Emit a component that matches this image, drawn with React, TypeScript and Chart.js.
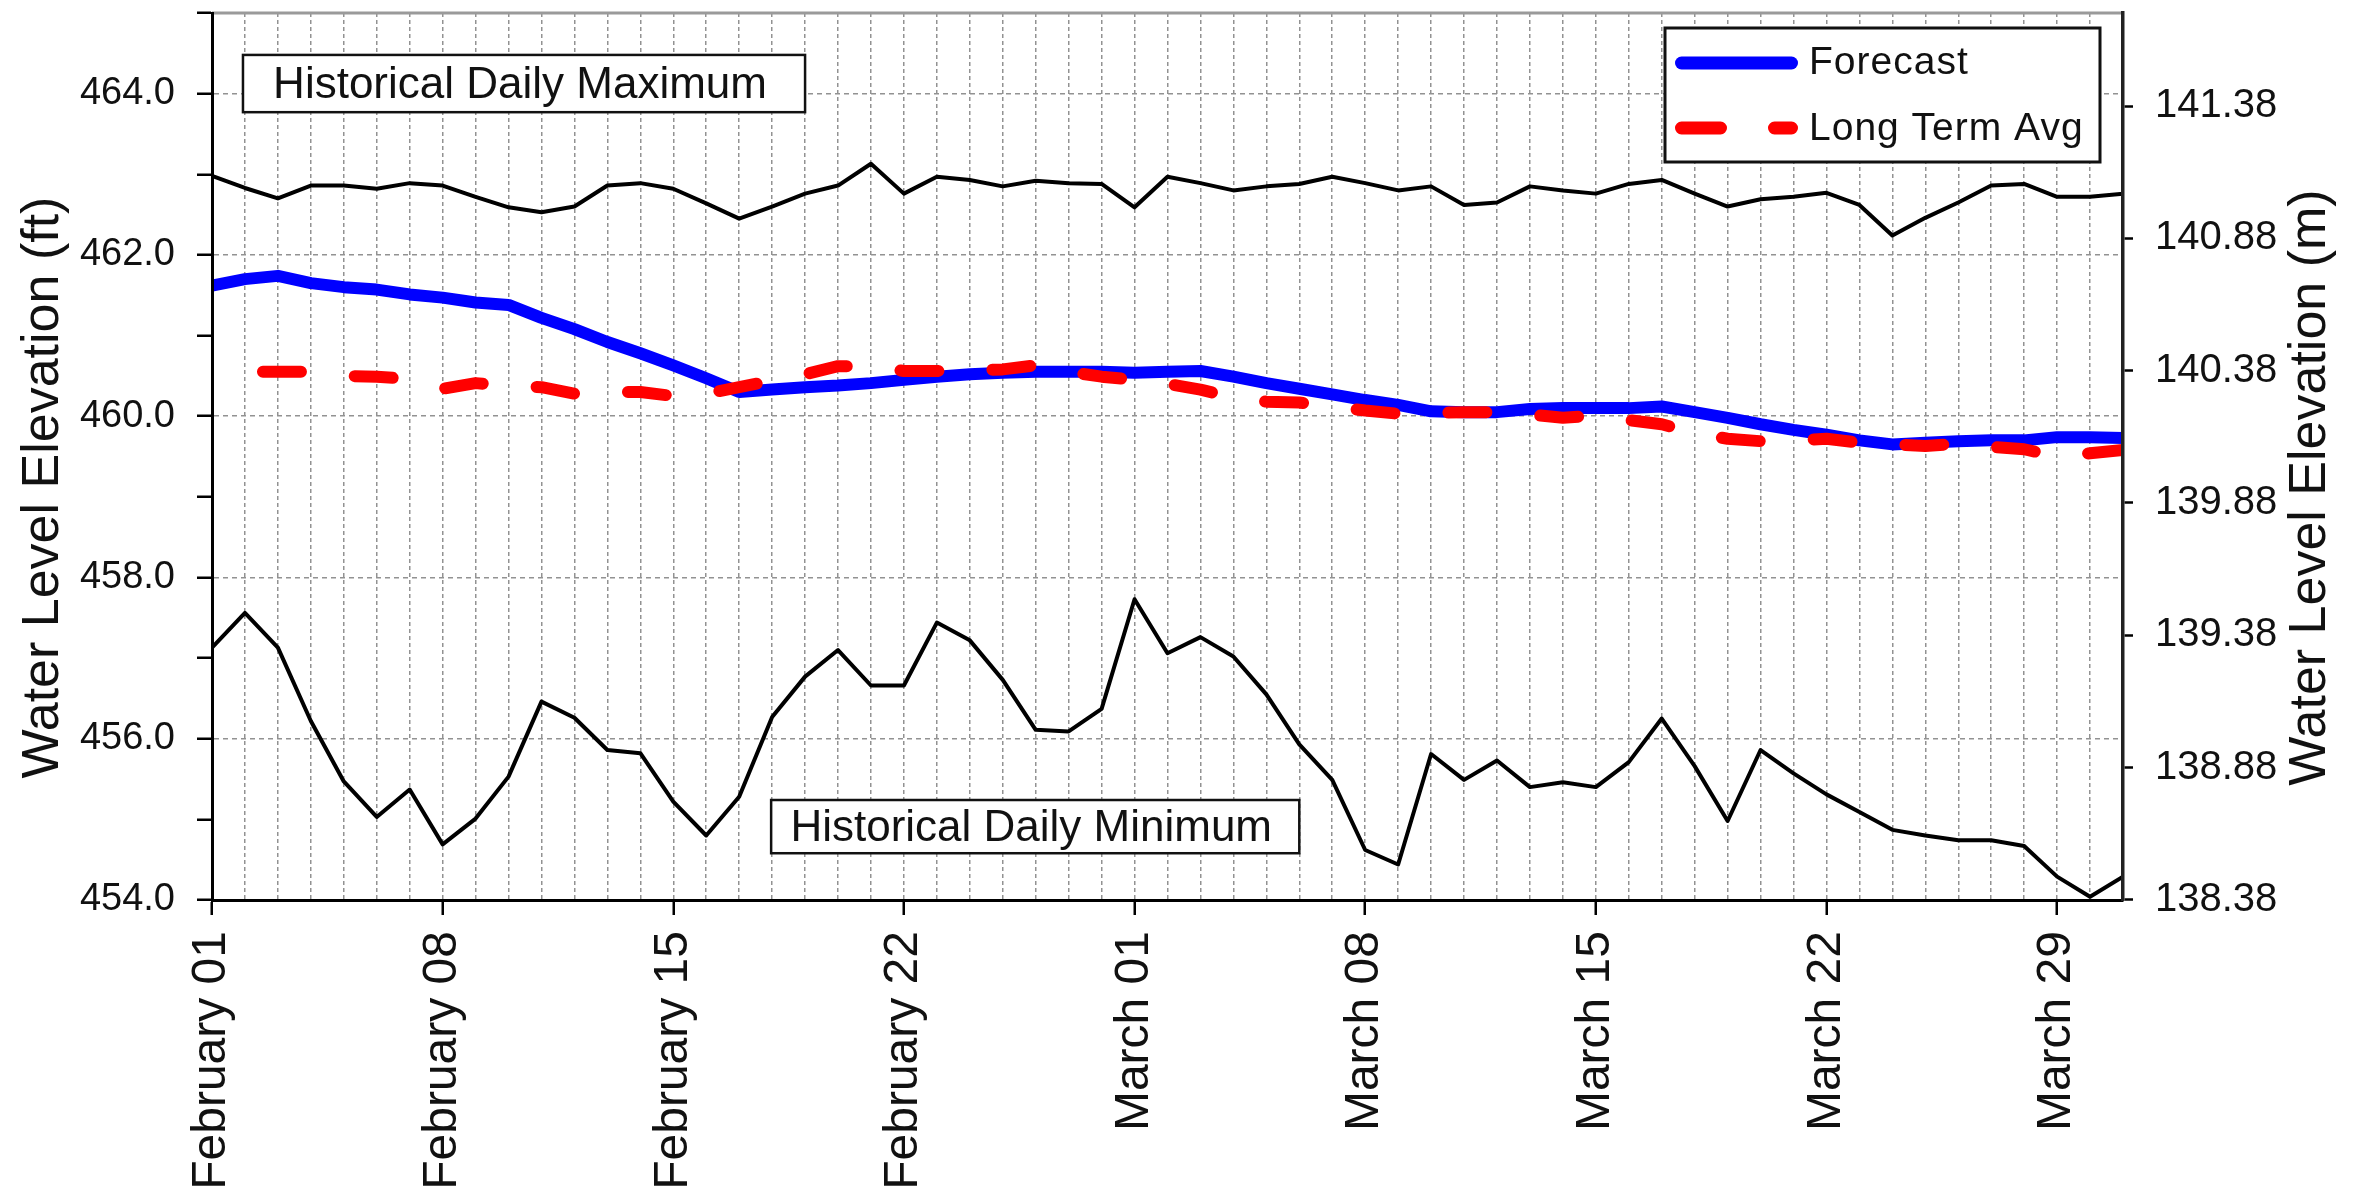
import React, { useEffect, useRef } from 'react';
import { Chart, registerables } from 'chart.js';

Chart.register(...registerables);

const FONT = '"Liberation Sans", Arial, Helvetica, sans-serif';

// ---- categories (one per day, Feb 01 .. Mar 31) ----
const monthNames = ['February', 'March'];
const monthLengths = [28, 31];
const dayLabels: string[] = [];
monthNames.forEach((m, mi) => {
  for (let d = 1; d <= monthLengths[mi]; d++) dayLabels.push(`${m} ${String(d).padStart(2, '0')}`);
});

// ---- tick labels shown on the date axis ----
const shownDateLabels = [
  'February 01', 'February 08', 'February 15', 'February 22',
  'March 01', 'March 08', 'March 15', 'March 22', 'March 29',
];

// ---- series (ft) ----
const histMax = [
  462.98, 462.83, 462.70, 462.86, 462.86, 462.82, 462.89, 462.86, 462.72, 462.59,
  462.53, 462.60, 462.86, 462.89, 462.82, 462.64, 462.45, 462.60, 462.76, 462.86,
  463.13, 462.76, 462.97, 462.93, 462.85, 462.92, 462.89, 462.88, 462.59, 462.97,
  462.89, 462.80, 462.85, 462.88, 462.97, 462.89, 462.80, 462.85, 462.62, 462.65,
  462.85, 462.80, 462.76, 462.88, 462.93, 462.76, 462.60, 462.69, 462.72, 462.77,
  462.62, 462.24, 462.46, 462.65, 462.86, 462.88, 462.72, 462.72, 462.76,
];
const histMin = [
  457.13, 457.56, 457.13, 456.22, 455.47, 455.03, 455.37, 454.69, 455.01, 455.53,
  456.46, 456.26, 455.86, 455.82, 455.22, 454.80, 455.28, 456.27, 456.77, 457.10,
  456.66, 456.66, 457.44, 457.22, 456.73, 456.11, 456.09, 456.37, 457.73, 457.06,
  457.26, 457.02, 456.55, 455.93, 455.49, 454.62, 454.44, 455.81, 455.49, 455.73,
  455.40, 455.46, 455.40, 455.71, 456.25, 455.66, 454.98, 455.86, 455.57, 455.31,
  455.09, 454.87, 454.80, 454.74, 454.74, 454.67, 454.29, 454.04, 454.29,
];
const forecast = [
  461.62, 461.70, 461.74, 461.65, 461.60, 461.57, 461.51, 461.47, 461.41, 461.38,
  461.22, 461.08, 460.92, 460.78, 460.63, 460.47, 460.30, 460.33, 460.36, 460.38,
  460.41, 460.45, 460.49, 460.52, 460.54, 460.55, 460.55, 460.55, 460.54, 460.55,
  460.56, 460.49, 460.41, 460.34, 460.27, 460.20, 460.14, 460.06, 460.05, 460.05,
  460.09, 460.10, 460.10, 460.10, 460.12, 460.05, 459.98, 459.90, 459.83, 459.77,
  459.70, 459.65, 459.67, 459.69, 459.70, 459.70, 459.74, 459.74, 459.73,
];
const longTermAvg = [
  460.57, 460.55, 460.55, 460.55, 460.50, 460.49, 460.46, 460.34, 460.41, 460.38,
  460.36, 460.28, 460.30, 460.30, 460.25, 460.28, 460.36, 460.44, 460.52, 460.62,
  460.62, 460.56, 460.56, 460.57, 460.58, 460.63, 460.55, 460.49, 460.45, 460.40,
  460.33, 460.23, 460.18, 460.17, 460.12, 460.07, 460.03, 460.04, 460.05, 460.05,
  460.02, 459.98, 460.01, 459.95, 459.90, 459.79, 459.72, 459.69, 459.70, 459.72,
  459.67, 459.65, 459.63, 459.66, 459.62, 459.59, 459.50, 459.54, 459.58,
];

// ---- axes ----
const FT_MIN = 454;
const FT_MAX = 465;
const FT_TO_M = 0.3048;
const meterTicks = [138.38, 138.88, 139.38, 139.88, 140.38, 140.88, 141.38];

const leftTitle = 'Water Level Elevation (ft)';
const rightTitle = 'Water Level Elevation (m)';
const maxBoxText = 'Historical Daily Maximum';
const minBoxText = 'Historical Daily Minimum';
const legendItems = ['Forecast', 'Long Term Avg'];

const W = 2363;
const H = 1192;

const overlayPlugin = {
  id: 'overlay',
  beforeDatasetsDraw(chart: any) {
    const { ctx, chartArea, scales } = chart;
    const x = scales.x;
    const y = scales.y;
    ctx.save();
    // top frame line
    ctx.strokeStyle = '#9a9a9a';
    ctx.lineWidth = 3;
    ctx.beginPath();
    ctx.moveTo(chartArea.left, chartArea.top);
    ctx.lineTo(chartArea.right, chartArea.top);
    ctx.stroke();

    const boxes = [
      { text: maxBoxText, d0: 0.94, d1: 18.0, v0: 464.48, v1: 463.77 },
      { text: minBoxText, d0: 16.97, d1: 33.0, v0: 455.24, v1: 454.58 },
    ];
    boxes.forEach((b) => {
      const x1 = x.getPixelForValue(b.d0);
      const x2 = x.getPixelForValue(b.d1);
      const y1 = y.getPixelForValue(b.v0);
      const y2 = y.getPixelForValue(b.v1);
      ctx.fillStyle = '#ffffff';
      ctx.fillRect(x1, y1, x2 - x1, y2 - y1);
      ctx.strokeStyle = '#111';
      ctx.lineWidth = 2.5;
      ctx.strokeRect(x1, y1, x2 - x1, y2 - y1);
      ctx.fillStyle = '#111';
      ctx.font = `44px ${FONT}`;
      ctx.textAlign = 'center';
      ctx.textBaseline = 'middle';
      ctx.fillText(b.text, (x1 + x2) / 2 - 4, (y1 + y2) / 2 + 2);
    });
    ctx.restore();
  },
  afterDatasetsDraw(chart: any) {
    const { ctx, chartArea } = chart;
    ctx.save();
    // legend
    const bx = chartArea.right - 458;
    const by = chartArea.top + 15;
    const bw = 435;
    const bh = 134;
    ctx.fillStyle = '#ffffff';
    ctx.fillRect(bx, by, bw, bh);
    ctx.strokeStyle = '#111';
    ctx.lineWidth = 3;
    ctx.strokeRect(bx, by, bw, bh);

    ctx.lineCap = 'round';
    ctx.lineWidth = 13;
    ctx.strokeStyle = '#0000ff';
    ctx.beginPath();
    ctx.moveTo(bx + 16.5, by + 35);
    ctx.lineTo(bx + 126.5, by + 35);
    ctx.stroke();

    ctx.strokeStyle = '#ff0000';
    ctx.beginPath();
    ctx.moveTo(bx + 16.5, by + 100);
    ctx.lineTo(bx + 55.5, by + 100);
    ctx.moveTo(bx + 109.5, by + 100);
    ctx.lineTo(bx + 126.5, by + 100);
    ctx.stroke();

    ctx.fillStyle = '#111';
    ctx.font = `39px ${FONT}`;
    (ctx as any).letterSpacing = '1px';
    ctx.textAlign = 'left';
    ctx.textBaseline = 'middle';
    ctx.fillText(legendItems[0], bx + 144, by + 35);
    ctx.fillText(legendItems[1], bx + 144, by + 101);
    (ctx as any).letterSpacing = '0px';
    ctx.restore();
  },
  afterDraw(chart: any) {
    const { ctx, chartArea } = chart;
    const cy = (chartArea.top + chartArea.bottom) / 2 + 31;
    ctx.save();
    ctx.fillStyle = '#111';
    ctx.font = `52px ${FONT}`;
    ctx.textAlign = 'center';
    ctx.textBaseline = 'middle';
    [
      { t: leftTitle, cx: chartArea.left - 168 },
      { t: rightTitle, cx: chartArea.right + 188 },
    ].forEach((o) => {
      ctx.save();
      ctx.translate(o.cx, cy);
      ctx.rotate(-Math.PI / 2);
      ctx.fillText(o.t, 0, 0);
      ctx.restore();
    });
    ctx.restore();
  },
};

export default function App() {
  const canvasRef = useRef<HTMLCanvasElement | null>(null);

  useEffect(() => {
    const canvas = canvasRef.current;
    if (!canvas) return;
    const clear = 'rgba(0,0,0,0)';
    const gridGray = '#929292';

    const chart = new Chart(canvas, {
      type: 'line',
      data: {
        labels: dayLabels,
        datasets: [
          {
            label: 'Long Term Avg',
            data: longTermAvg,
            borderColor: '#ff0000',
            borderWidth: 12,
            borderDash: [38, 54],
            borderDashOffset: 41,
            borderCapStyle: 'round',
            borderJoinStyle: 'round',
            pointRadius: 0,
            tension: 0,
            fill: false,
            order: 0,
            clip: 0,
            yAxisID: 'y',
          },
          {
            label: 'Forecast',
            data: forecast,
            borderColor: '#0000ff',
            borderWidth: 12,
            borderCapStyle: 'round',
            borderJoinStyle: 'round',
            pointRadius: 0,
            tension: 0,
            fill: false,
            order: 1,
            clip: 0,
            yAxisID: 'y',
          },
          {
            label: maxBoxText,
            data: histMax,
            borderColor: '#000000',
            borderWidth: 4,
            borderJoinStyle: 'round',
            pointRadius: 0,
            tension: 0,
            fill: false,
            order: 2,
            clip: 0,
            yAxisID: 'y',
          },
          {
            label: minBoxText,
            data: histMin,
            borderColor: '#000000',
            borderWidth: 4,
            borderJoinStyle: 'round',
            pointRadius: 0,
            tension: 0,
            fill: false,
            order: 2,
            clip: 0,
            yAxisID: 'y',
          },
        ],
      },
      options: {
        responsive: false,
        devicePixelRatio: 1,
        animation: false,
        layout: { padding: { top: 13, left: 0, right: 0, bottom: 0 } },
        plugins: {
          legend: { display: false },
          tooltip: { enabled: false },
          title: { display: false },
        },
        scales: {
          x: {
            type: 'category',
            offset: false,
            grid: {
              color: gridGray,
              lineWidth: 1.5,
              drawTicks: true,
              tickLength: 15,
              tickWidth: 2.5,
              tickColor: (c: any) => (shownDateLabels.includes(dayLabels[c.index]) ? '#000' : clear),
            },
            border: { display: true, color: '#000', width: 3, dash: [4, 3], z: 1 },
            ticks: {
              autoSkip: false,
              maxRotation: 90,
              minRotation: 90,
              padding: 16,
              color: '#111',
              font: { family: FONT, size: 48 },
              callback: (_v: any, i: number) => (shownDateLabels.includes(dayLabels[i]) ? dayLabels[i] : ''),
            },
            afterFit: (s: any) => {
              s.height = 292;
              s.paddingLeft = 0;
              s.paddingRight = 0;
            },
          },
          y: {
            type: 'linear',
            position: 'left',
            min: FT_MIN,
            max: FT_MAX,
            grid: {
              color: (c: any) =>
                c.tick && c.tick.value % 2 === 0 && c.tick.value !== FT_MIN ? gridGray : clear,
              lineWidth: 1.5,
              tickLength: 15,
              tickWidth: 2.5,
              tickColor: '#000',
            },
            border: { display: true, color: '#000', width: 3, dash: [5, 4], z: 1 },
            ticks: {
              stepSize: 1,
              autoSkip: false,
              padding: 22,
              color: '#111',
              font: { family: FONT, size: 38 },
              callback: (v: any) => (Number(v) % 2 === 0 ? Number(v).toFixed(1) : ''),
            },
            afterFit: (s: any) => {
              s.width = 212;
              s.paddingTop = 0;
              s.paddingBottom = 0;
            },
          },
          y1: {
            type: 'linear',
            position: 'right',
            min: FT_MIN * FT_TO_M,
            max: FT_MAX * FT_TO_M,
            afterBuildTicks: (s: any) => {
              s.ticks = meterTicks.map((v) => ({ value: v }));
            },
            grid: {
              drawOnChartArea: false,
              tickLength: 10,
              tickWidth: 2.5,
              tickColor: '#000',
            },
            border: { display: true, color: '#222', width: 3.5, z: 1 },
            ticks: {
              autoSkip: false,
              padding: 22,
              color: '#111',
              font: { family: FONT, size: 40 },
              callback: (v: any) => Number(v).toFixed(2),
            },
            afterFit: (s: any) => {
              s.width = 240;
              s.paddingTop = 0;
              s.paddingBottom = 0;
            },
          },
        },
      } as any,
      plugins: [overlayPlugin],
    });

    return () => {
      chart.destroy();
    };
  }, []);

  return (
    <div style={{ position: 'absolute', left: 0, top: 0, width: W, height: H, background: '#fff' }}>
      <canvas ref={canvasRef} width={W} height={H} style={{ display: 'block', width: W, height: H }} />
    </div>
  );
}
